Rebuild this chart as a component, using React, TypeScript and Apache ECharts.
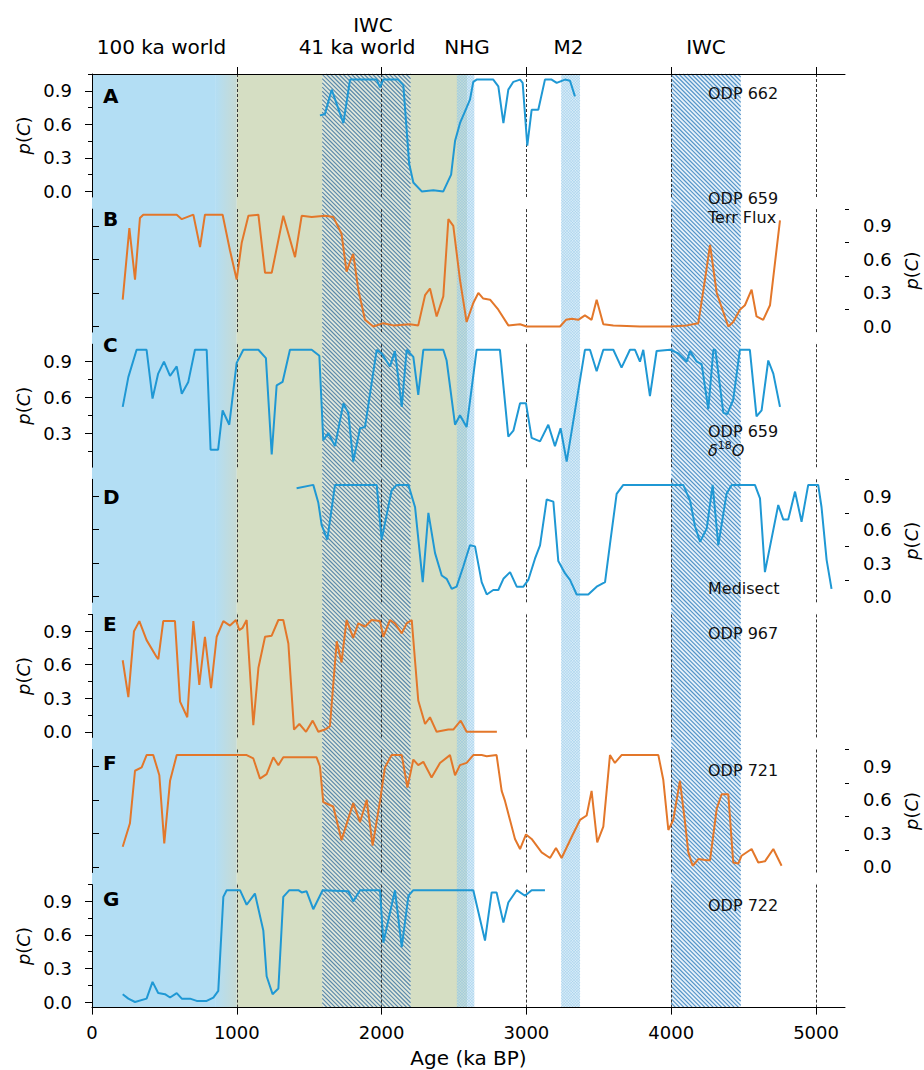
import React, { useEffect, useRef } from 'react';
import * as echarts from 'echarts';

// ---------- data ----------
const ageA = [1574, 1608, 1655, 1736, 1782, 1880, 1966, 1989, 2011, 2114, 2150, 2170, 2190, 2219, 2277, 2357, 2426, 2480, 2507, 2541, 2587, 2610, 2633, 2656, 2771, 2806, 2841, 2875, 2910, 2956, 2974, 3006, 3036, 3082, 3128, 3174, 3209, 3266, 3301, 3335];
const pA = [0.68, 0.69, 0.91, 0.61, 1.0, 1.0, 1.0, 0.93, 1.0, 1.0, 0.95, 0.6, 0.25, 0.08, 0.0, 0.01, 0.0, 0.15, 0.45, 0.61, 0.75, 0.82, 0.98, 1.0, 1.0, 0.94, 0.61, 0.91, 0.98, 1.0, 0.97, 0.41, 0.73, 0.73, 1.0, 1.0, 0.97, 1.0, 0.99, 0.85];

const ageB = [212, 258, 297, 331, 354, 585, 620, 700, 746, 780, 902, 953, 999, 1034, 1080, 1149, 1195, 1241, 1321, 1402, 1448, 1517, 1609, 1666, 1723, 1758, 1782, 1804, 1839, 1885, 1943, 2012, 2081, 2196, 2253, 2300, 2334, 2380, 2426, 2461, 2495, 2541, 2587, 2633, 2668, 2702, 2749, 2806, 2875, 2956, 3002, 3232, 3273, 3313, 3358, 3404, 3450, 3485, 3531, 3600, 3784, 3992, 4107, 4187, 4233, 4268, 4314, 4394, 4428, 4474, 4509, 4555, 4589, 4635, 4682, 4751];
const pB = [0.24, 0.88, 0.42, 0.97, 1.0, 1.0, 0.96, 1.0, 0.71, 1.0, 1.0, 0.68, 0.42, 0.75, 0.99, 1.0, 0.48, 0.48, 0.99, 0.62, 0.99, 0.98, 0.99, 0.98, 0.83, 0.49, 0.58, 0.65, 0.33, 0.06, 0.0, 0.03, 0.01, 0.02, 0.01, 0.28, 0.34, 0.09, 0.27, 0.96, 0.9, 0.42, 0.04, 0.21, 0.3, 0.25, 0.24, 0.15, 0.01, 0.02, 0.0, 0.0, 0.06, 0.07, 0.06, 0.1, 0.06, 0.24, 0.02, 0.01, 0.0, 0.0, 0.01, 0.03, 0.42, 0.73, 0.3, 0.0, 0.04, 0.15, 0.19, 0.33, 0.09, 0.06, 0.19, 0.95];

const ageC = [212, 251, 308, 377, 418, 457, 497, 539, 585, 620, 665, 711, 792, 819, 871, 902, 948, 999, 1045, 1149, 1201, 1241, 1275, 1316, 1367, 1517, 1570, 1597, 1632, 1678, 1736, 1770, 1804, 1851, 1885, 1966, 2000, 2058, 2092, 2139, 2173, 2219, 2253, 2288, 2426, 2449, 2507, 2541, 2587, 2656, 2817, 2875, 2910, 2956, 2997, 3036, 3094, 3151, 3197, 3236, 3278, 3404, 3439, 3485, 3531, 3600, 3657, 3715, 3750, 3784, 3807, 3853, 3899, 3992, 4049, 4107, 4130, 4176, 4210, 4256, 4291, 4305, 4360, 4387, 4428, 4474, 4543, 4589, 4624, 4670, 4705, 4751];
const pC = [0.52, 0.77, 1.0, 1.0, 0.59, 0.8, 0.9, 0.78, 0.86, 0.63, 0.73, 1.0, 1.0, 0.16, 0.16, 0.49, 0.37, 0.89, 1.0, 1.0, 0.93, 0.12, 0.7, 0.73, 1.0, 1.0, 0.95, 0.24, 0.3, 0.19, 0.55, 0.47, 0.06, 0.34, 0.35, 1.0, 0.97, 0.86, 0.99, 0.52, 1.0, 0.94, 0.62, 1.0, 1.0, 0.91, 0.37, 0.45, 0.35, 1.0, 1.0, 0.27, 0.32, 0.55, 0.55, 0.26, 0.23, 0.37, 0.19, 0.34, 0.06, 1.0, 1.0, 0.82, 1.0, 1.0, 0.85, 1.0, 1.0, 0.9, 1.0, 0.61, 0.99, 1.0, 0.97, 0.9, 0.99, 0.9, 0.88, 0.5, 1.0, 1.0, 0.47, 0.46, 0.58, 1.0, 1.0, 0.44, 0.49, 0.91, 0.8, 0.52];

const ageD = [1413, 1528, 1563, 1586, 1625, 1678, 1966, 2000, 2069, 2104, 2185, 2231, 2284, 2323, 2369, 2415, 2449, 2484, 2518, 2564, 2610, 2645, 2691, 2726, 2771, 2806, 2841, 2887, 2933, 2979, 3013, 3059, 3094, 3140, 3186, 3220, 3266, 3301, 3347, 3427, 3485, 3543, 3577, 3623, 3669, 4083, 4130, 4164, 4199, 4245, 4286, 4325, 4382, 4417, 4578, 4613, 4647, 4739, 4774, 4808, 4855, 4900, 4946, 5015, 5038, 5073, 5107];
const pD = [0.97, 1.0, 0.84, 0.64, 0.51, 1.0, 1.0, 0.51, 0.95, 1.0, 1.0, 0.8, 0.13, 0.75, 0.39, 0.19, 0.16, 0.07, 0.09, 0.27, 0.46, 0.45, 0.13, 0.02, 0.06, 0.06, 0.16, 0.22, 0.09, 0.09, 0.15, 0.34, 0.46, 0.87, 0.85, 0.32, 0.21, 0.15, 0.02, 0.02, 0.09, 0.13, 0.47, 0.92, 1.0, 1.0, 0.86, 0.63, 0.49, 0.61, 1.0, 0.46, 0.92, 1.0, 1.0, 0.88, 0.22, 0.82, 0.69, 0.69, 0.94, 0.67, 1.0, 1.0, 0.8, 0.33, 0.07];

const ageE = [212, 251, 290, 327, 377, 446, 458, 492, 573, 608, 658, 700, 741, 780, 822, 861, 907, 953, 994, 1017, 1040, 1068, 1114, 1149, 1195, 1241, 1287, 1321, 1356, 1395, 1432, 1478, 1524, 1563, 1609, 1643, 1690, 1723, 1758, 1804, 1839, 1885, 1931, 1989, 2012, 2058, 2092, 2139, 2173, 2208, 2253, 2300, 2334, 2380, 2461, 2495, 2546, 2587, 2796];
const pE = [0.64, 0.31, 0.9, 0.99, 0.82, 0.67, 0.65, 0.99, 0.99, 0.27, 0.13, 0.99, 0.42, 0.85, 0.39, 0.85, 0.99, 0.95, 1.0, 0.91, 0.93, 1.0, 0.06, 0.57, 0.85, 0.86, 1.0, 1.0, 0.79, 0.02, 0.07, 0.0, 0.1, 0.0, 0.02, 0.05, 0.81, 0.62, 1.0, 0.84, 0.97, 0.94, 1.0, 0.99, 0.85, 1.0, 0.97, 0.88, 0.97, 1.0, 0.28, 0.07, 0.13, 0.0, 0.02, 0.02, 0.1, 0.0, 0.0];

const ageF = [212, 262, 297, 343, 377, 423, 465, 499, 539, 585, 1068, 1114, 1160, 1206, 1252, 1287, 1321, 1551, 1574, 1597, 1666, 1723, 1804, 1851, 1897, 1938, 1989, 2023, 2069, 2139, 2178, 2219, 2253, 2288, 2345, 2403, 2472, 2507, 2541, 2587, 2633, 2691, 2726, 2794, 2829, 2852, 2921, 2956, 2997, 3036, 3105, 3163, 3204, 3243, 3313, 3370, 3416, 3450, 3489, 3531, 3577, 3611, 3657, 3911, 3945, 3980, 4014, 4060, 4095, 4118, 4148, 4187, 4245, 4268, 4314, 4348, 4394, 4428, 4463, 4486, 4555, 4601, 4647, 4705, 4762];
const pF = [0.18, 0.39, 0.86, 0.89, 1.0, 1.0, 0.82, 0.21, 0.77, 1.0, 1.0, 0.97, 0.79, 0.83, 0.98, 0.91, 0.98, 0.98, 0.9, 0.58, 0.54, 0.24, 0.57, 0.4, 0.6, 0.19, 0.59, 0.89, 1.0, 1.0, 0.71, 0.96, 0.91, 0.94, 0.8, 0.93, 1.0, 0.82, 0.91, 0.93, 1.0, 1.0, 0.99, 1.0, 0.68, 0.59, 0.25, 0.16, 0.29, 0.25, 0.13, 0.08, 0.17, 0.08, 0.27, 0.42, 0.46, 0.68, 0.22, 0.36, 1.0, 0.93, 1.0, 1.0, 0.78, 0.33, 0.42, 0.77, 0.4, 0.13, 0.01, 0.07, 0.06, 0.06, 0.52, 0.65, 0.65, 0.04, 0.03, 0.1, 0.16, 0.04, 0.05, 0.16, 0.01];

const ageG = [212, 251, 297, 377, 418, 457, 504, 539, 585, 620, 677, 723, 792, 838, 872, 907, 930, 1022, 1068, 1125, 1183, 1206, 1247, 1287, 1321, 1363, 1425, 1448, 1482, 1528, 1593, 1770, 1804, 1851, 1989, 2012, 2092, 2139, 2185, 2219, 2633, 2714, 2760, 2794, 2841, 2875, 2933, 2990, 3036, 3128];
const pG = [0.07, 0.03, 0.0, 0.03, 0.18, 0.08, 0.07, 0.04, 0.08, 0.03, 0.03, 0.01, 0.01, 0.04, 0.1, 0.94, 1.0, 1.0, 0.87, 0.97, 0.64, 0.23, 0.07, 0.12, 0.94, 1.0, 1.0, 0.98, 0.99, 0.83, 1.0, 0.99, 0.9, 1.0, 1.0, 0.53, 1.0, 0.49, 0.95, 1.0, 1.0, 0.55, 0.98, 0.98, 0.71, 0.89, 1.0, 0.95, 1.0, 1.0];

const panelAges = [ageA, ageB, ageC, ageD, ageE, ageF, ageG];
const panelValues = [pA, pB, pC, pD, pE, pF, pG];
const panelLetters = ['A', 'B', 'C', 'D', 'E', 'F', 'G'];
const panelSides = ['left', 'right', 'left', 'right', 'left', 'right', 'left'];
const panelKinds = ['blue', 'orange', 'blue', 'blue', 'orange', 'orange', 'blue'];
const panelYMin = [-0.05, -0.05, 0.013, -0.05, -0.05, -0.05, -0.05];
const panelYMax = [1.05, 1.05, 1.047, 1.05, 1.05, 1.05, 1.05];

const xTickValues = [0, 1000, 2000, 3000, 4000, 5000];
const topTickValues = [1000, 2000, 3000, 4000, 5000];
const dashedAges = [1000, 2000, 3000, 4000, 5000];
const yMajor = [0, 0.3, 0.6, 0.9];
const yMinor = [0.15, 0.45, 0.75, 1.05];

// background bands (ka BP)
const bandStart = [0, 850, 1000, 1590, 2520, 3240, 4000];
const bandEnd = [850, 1000, 2590, 2200, 2640, 3370, 4480];
const bandKind = ['blue', 'fade', 'olive', 'hatchA', 'dots', 'dots', 'hatchB'];

const topLabels = [
  { text: '100 ka world', age: 480 },
  { text: '41 ka world', age: 1830 },
  { text: 'NHG', age: 2590 },
  { text: 'M2', age: 3290 },
  { text: 'IWC', age: 4240 },
];

const siteLabels = [
  { panel: 0, lines: ['ODP 662'] },
  { panel: 1, lines: ['ODP 659', 'Terr Flux'] },
  { panel: 2, lines: ['ODP 659', '{d|δ}{s|18}{d|O}'] },
  { panel: 3, lines: ['Medisect'] },
  { panel: 4, lines: ['ODP 967'] },
  { panel: 5, lines: ['ODP 721'] },
  { panel: 6, lines: ['ODP 722'] },
];

// ---------- styling / layout ----------
const FONT = 'DejaVu Sans';
const BLUE_LINE = '#1f98d4';
const ORANGE_LINE = '#e3772a';
const BG_BLUE = '#b3def4';
const BG_OLIVE = '#d5dec3';
const GRID_LEFT = 92;
const GRID_RIGHT = 79;
const TOP = 74;
const PANEL_H = 123;
const STEP = 135.1;
const BOTTOM_Y = TOP + 6 * STEP + PANEL_H;

const letterY = [96, 219, 345, 497, 624, 763, 899];
const siteY = [93, 198, 431, 588, 633, 770, 905];

function hatchBack(x0: number, x1: number, y0: number, h: number, step: number) {
  let d = '';
  const start = Math.floor((x0 - (y0 + h)) / step) * step;
  for (let c = start; c <= x1 - y0; c += step) {
    const ya = Math.max(y0, x0 - c);
    const yb = Math.min(y0 + h, x1 - c);
    if (yb > ya) d += `M${(ya + c).toFixed(2)} ${ya.toFixed(2)}L${(yb + c).toFixed(2)} ${yb.toFixed(2)}`;
  }
  return d;
}
function hatchFwd(x0: number, x1: number, y0: number, h: number, step: number) {
  let d = '';
  const start = Math.floor((x0 + y0) / step) * step;
  for (let c = start; c <= x1 + y0 + h; c += step) {
    const ya = Math.max(y0, c - x1);
    const yb = Math.min(y0 + h, c - x0);
    if (yb > ya) d += `M${(c - ya).toFixed(2)} ${ya.toFixed(2)}L${(c - yb).toFixed(2)} ${yb.toFixed(2)}`;
  }
  return d;
}

export default function App() {
  const ref = useRef<HTMLDivElement>(null);
  useEffect(() => {
    document.body.style.margin = '0';
    if (!ref.current) return;
    const chart = echarts.init(ref.current, null, { renderer: 'svg' });

    const grids: any[] = [
      { left: GRID_LEFT, right: GRID_RIGHT, top: TOP, height: BOTTOM_Y - TOP, outerBoundsMode: 'none' },
    ];
    const xAxes: any[] = [
      {
        gridIndex: 0, type: 'value', position: 'bottom', min: 0, max: 5200, z: 10,
        axisLine: { show: true, lineStyle: { color: '#000', width: 1 } },
        axisTick: { show: true, inside: false, length: 7, customValues: xTickValues, lineStyle: { color: '#000' } },
        axisLabel: {
          show: true, customValues: xTickValues, margin: 16, fontSize: 18, fontFamily: FONT, color: '#000',
          formatter: (v: number) => String(Math.round(v)),
        },
        splitLine: { show: false },
        name: 'Age (ka BP)', nameLocation: 'middle', nameGap: 40,
        nameTextStyle: { fontSize: 20, fontFamily: FONT, color: '#000' },
      },
      {
        gridIndex: 0, type: 'value', position: 'top', min: 0, max: 5200, z: 10,
        axisLine: { show: true, lineStyle: { color: '#000', width: 1 } },
        axisTick: { show: true, inside: false, length: 7, customValues: topTickValues, lineStyle: { color: '#000' } },
        axisLabel: { show: false },
        splitLine: { show: false },
      },
    ];
    const yAxes: any[] = [{ gridIndex: 0, type: 'value', min: 0, max: 1, show: false }];
    const series: any[] = [
      {
        type: 'custom',
        xAxisIndex: 0,
        yAxisIndex: 0,
        silent: true,
        z: 0,
        encode: { x: [0, 1] },
        data: bandStart.map((s, i) => [s, bandEnd[i]]),
        renderItem: (params: any, api: any) => {
          const i = params.dataIndex;
          const kind = bandKind[i];
          const cs = params.coordSys;
          const xa = api.coord([bandStart[i], 0])[0];
          const xb = api.coord([bandEnd[i], 0])[0];
          const y0 = cs.y;
          const h = cs.height;
          const shape = { x: xa, y: y0, width: xb - xa, height: h };
          if (kind === 'blue') return { type: 'rect', shape, style: { fill: BG_BLUE } };
          if (kind === 'olive') return { type: 'rect', shape, style: { fill: BG_OLIVE } };
          if (kind === 'fade')
            return {
              type: 'rect', shape,
              style: {
                fill: { type: 'linear', x: 0, y: 0, x2: 1, y2: 0, colorStops: [{ offset: 0, color: BG_BLUE }, { offset: 1, color: '#c6dad4' }] },
              },
            };
          if (kind === 'dots')
            return {
              type: 'group',
              children: [
                { type: 'rect', shape, style: { fill: 'rgba(175,218,242,0.5)' } },
                { type: 'path', shape: { pathData: hatchBack(xa, xb, y0, h, 2.8) }, style: { fill: 'none', stroke: 'rgba(110,175,222,0.45)', lineWidth: 0.6 } },
                { type: 'path', shape: { pathData: hatchFwd(xa, xb, y0, h, 2.8) }, style: { fill: 'none', stroke: 'rgba(110,175,222,0.45)', lineWidth: 0.6 } },
              ],
            };
          const isA = kind === 'hatchA';
          return {
            type: 'group',
            children: [
              { type: 'rect', shape, style: { fill: isA ? 'rgba(232,238,240,0.55)' : 'rgba(222,236,247,0.8)' } },
              { type: 'path', shape: { pathData: hatchBack(xa, xb, y0, h, 4.2) }, style: { fill: 'none', stroke: isA ? '#5b89a9' : '#5494c8', lineWidth: 1.15 } },
            ],
          };
        },
      },
    ];

    for (let k = 0; k < 7; k++) {
      const top = TOP + k * STEP;
      grids.push({ left: GRID_LEFT, right: GRID_RIGHT, top, height: PANEL_H, outerBoundsMode: 'none' });
      xAxes.push({ gridIndex: k + 1, type: 'value', min: 0, max: 5200, show: false });
      const side = panelSides[k];
      yAxes.push({
        gridIndex: k + 1, type: 'value', position: side, min: panelYMin[k], max: panelYMax[k], z: 10,
        axisLine: { show: true, lineStyle: { color: '#000', width: 1 } },
        axisTick: { show: true, inside: false, length: 7, customValues: yMajor, lineStyle: { color: '#000' } },
        axisLabel: {
          show: true, customValues: yMajor, margin: side === 'left' ? 20 : 18, fontSize: 18, fontFamily: FONT, color: '#000',
          formatter: (v: number) => v.toFixed(1),
        },
        splitLine: { show: false },
        name: '{i|p}({i|C})', nameLocation: 'middle', nameRotate: 90, nameGap: side === 'left' ? 52 : 56,
        nameTextStyle: {
          fontSize: 18, fontFamily: FONT, color: '#000',
          rich: { i: { fontStyle: 'italic', fontSize: 18, fontFamily: FONT, color: '#000' } },
        },
      });
      yAxes.push({
        gridIndex: k + 1, type: 'value', position: side, min: panelYMin[k], max: panelYMax[k], z: 10,
        axisLine: { show: false },
        axisTick: { show: true, inside: false, length: 4, customValues: yMinor.filter((v) => v <= panelYMax[k] + 1e-9 && v >= panelYMin[k]), lineStyle: { color: '#000' } },
        axisLabel: { show: false },
        splitLine: { show: false },
      });
      const color = panelKinds[k] === 'blue' ? BLUE_LINE : ORANGE_LINE;
      series.push({
        type: 'line',
        xAxisIndex: k + 2,
        yAxisIndex: 1 + 2 * k,
        data: panelAges[k].map((a, i) => [a, panelValues[k][i]]),
        showSymbol: false,
        symbol: 'none',
        z: 5,
        lineStyle: { color, width: 2 },
        itemStyle: { color },
        markLine: {
          silent: true,
          symbol: ['none', 'none'],
          label: { show: false },
          lineStyle: { color: '#333', width: 1, type: [3, 2] },
          data: dashedAges.map((v) => ({ xAxis: v })),
        },
      });
    }

    const graphics: any[] = [];
    const xPix = (age: number) => GRID_LEFT + (age / 5200) * (924 - GRID_LEFT - GRID_RIGHT);
    topLabels.forEach((t) => {
      graphics.push({
        type: 'text', x: xPix(t.age), y: 47, z: 100, silent: true,
        style: { text: t.text, fontSize: 20, fontFamily: FONT, fill: '#000', align: 'center', verticalAlign: 'middle' },
      });
    });
    graphics.push({
      type: 'text', x: 373, y: 25, z: 100, silent: true,
      style: { text: 'IWC', fontSize: 20, fontFamily: FONT, fill: '#000', align: 'center', verticalAlign: 'middle' },
    });
    panelLetters.forEach((l, k) => {
      graphics.push({
        type: 'text', x: 103, y: letterY[k], z: 100, silent: true,
        style: { text: l, fontSize: 20, fontWeight: 'bold', fontFamily: FONT, fill: '#000', align: 'left', verticalAlign: 'middle' },
      });
    });
    siteLabels.forEach((s) => {
      s.lines.forEach((line, j) => {
        graphics.push({
          type: 'text', x: 708, y: siteY[s.panel] + j * 19, z: 100, silent: true,
          style: {
            text: line, fontSize: 16, fontFamily: FONT, fill: '#111', align: 'left', verticalAlign: 'middle',
            rich: {
              d: { fontSize: 16, fontFamily: FONT, fontStyle: 'italic', fill: '#111' },
              s: { fontSize: 11, fontFamily: FONT, fill: '#111', padding: [0, 0, 9, 0] },
            },
          },
        });
      });
    });

    chart.setOption({
      animation: false,
      backgroundColor: '#fff',
      grid: grids,
      xAxis: xAxes,
      yAxis: yAxes,
      series,
      graphic: graphics,
    });
    return () => chart.dispose();
  }, []);
  return <div ref={ref} style={{ width: 924, height: 1070 }} />;
}
